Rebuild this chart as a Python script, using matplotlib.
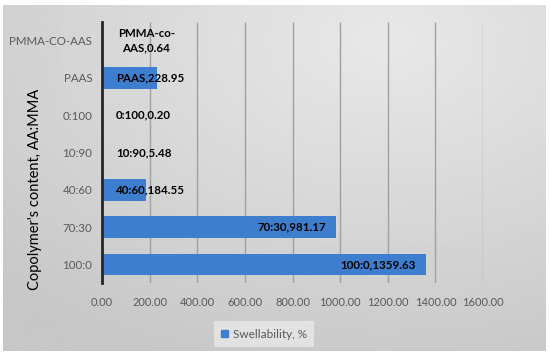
import numpy as np
import matplotlib.pyplot as plt

# data, bottom to top as drawn
categories = ["100:0", "70:30", "40:60", "10:90", "0:100", "PAAS", "PMMA-CO-AAS"]
label_names = ["100:0", "70:30", "40:60", "10:90", "0:100", "PAAS", "PMMA-co-\nAAS"]
swell = [1359.63, 981.17, 184.55, 5.48, 0.20, 228.95, 0.64]
xticks = [0, 200, 400, 600, 800, 1000, 1200, 1400, 1600]

plt.rcParams['font.family'] = ['Lato', 'DejaVu Sans']

fig = plt.figure(figsize=(5.5, 3.57), dpi=100)

# gradient chart-area background (grey, lighter towards upper right)
bg = fig.add_axes([3 / 550, 1 - 351 / 357, 543 / 550, 346 / 357])
gx, gy = np.meshgrid(np.linspace(0, 1, 300), np.linspace(0, 1, 200))
d = np.sqrt(((gx - 0.7) / 1.0) ** 2 + ((gy - 0.1) / 1.0) ** 2)
shade = 0.91 - 0.13 * np.clip(d, 0, 1)
bg.imshow(shade, cmap='gray', vmin=0, vmax=1, aspect='auto', extent=[0, 1, 1, 0])
bg.axis('off')
bg.set_zorder(-5)

ax = fig.add_axes([102 / 550, 1 - 283 / 357, 381 / 550, 261 / 357])
ax.set_facecolor('none')
y = np.arange(len(categories))
ax.barh(y, swell, height=0.58, color='#3E7ECF', zorder=3)

ax.set_xlim(0, 1600)
ax.set_ylim(-0.5, len(categories) - 0.5)
ax.set_xticks(xticks)
ax.set_xticklabels([f"{v:.2f}" for v in xticks], fontsize=8, color='#595959')
ax.set_yticks(y)
ax.set_yticklabels(categories, fontsize=8.3, color='#595959')
ax.tick_params(axis='both', length=0)
ax.tick_params(axis='x', pad=10)
ax.tick_params(axis='y', pad=7)
# vertical gridlines at the x tick values
ax.vlines(xticks[1:], 0, 1, transform=ax.get_xaxis_transform(),
          colors='#a0a0a0', linewidth=1, zorder=1)
for s in ['top', 'right', 'bottom']:
    ax.spines[s].set_visible(False)
ax.spines['left'].set_color('#262626')
ax.spines['left'].set_linewidth(2)
ax.spines['left'].set_zorder(4)

ax.set_ylabel("Copolymer's content, AA:MMA", fontsize=10.5, color='black')
ax.yaxis.set_label_coords(-0.157, 0.36)

for yi, name, v in zip(y, label_names, swell):
    txt = f"{name},{v:.2f}"
    if v > 500:
        ax.annotate(txt, (v, yi), xytext=(-7, 0), textcoords='offset points',
                    ha='right', va='center', fontsize=8.3, fontweight='bold', zorder=5)
    elif "\n" in name:
        ax.annotate(txt, (0, yi), xytext=(32, 0), textcoords='offset points',
                    ha='center', va='center', fontsize=8.3, fontweight='bold',
                    linespacing=1.35, zorder=5)
    else:
        ax.annotate(txt, (0, yi), xytext=(10, 0), textcoords='offset points',
                    ha='left', va='center', fontsize=8.3, fontweight='bold', zorder=5)

leg = fig.legend(handles=[plt.Rectangle((0, 0), 1, 1, color='#3E7ECF')],
                 labels=["Swellability, %"], loc='center',
                 bbox_to_anchor=(264 / 550, 1 - 334 / 357), fontsize=8.5,
                 frameon=True, handlelength=0.6, handleheight=0.6,
                 handletextpad=0.4, borderpad=0.6, fancybox=False)
leg.get_frame().set_facecolor('#f2f2f2')
leg.get_frame().set_alpha(0.6)
leg.get_frame().set_edgecolor('none')
for t in leg.get_texts():
    t.set_color('#595959')

fig.savefig('out.png', dpi=100)
